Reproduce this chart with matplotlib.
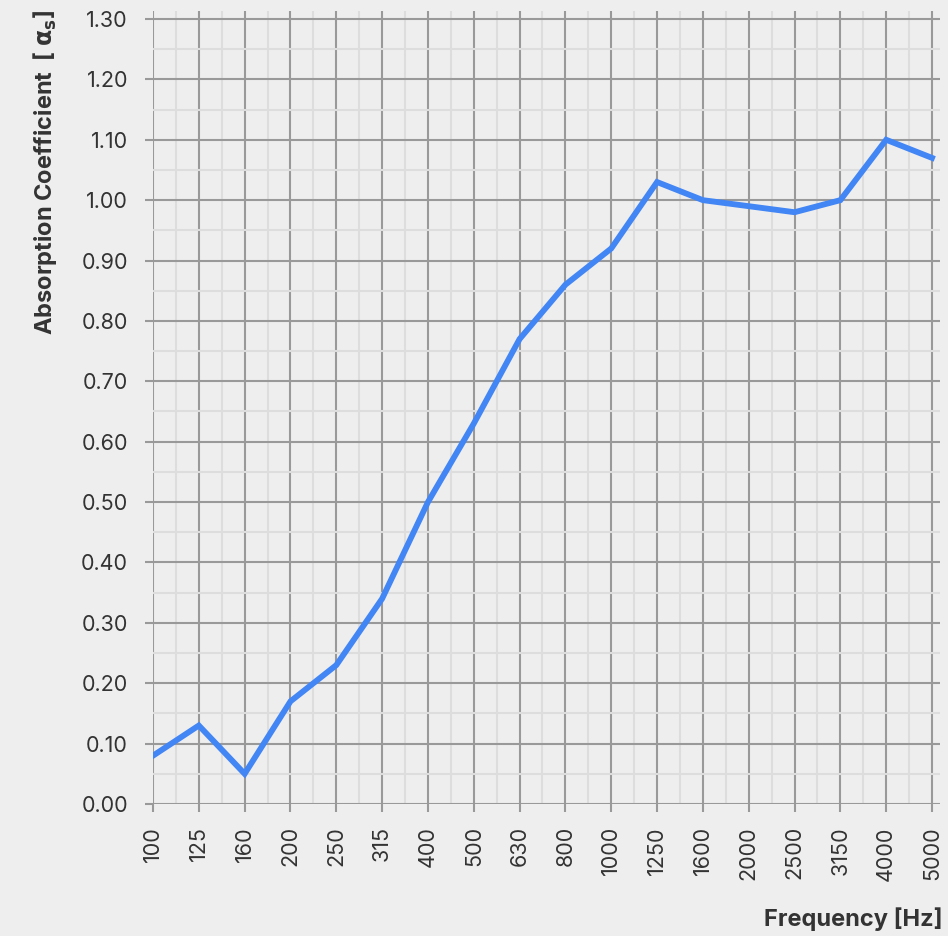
import numpy as np
import matplotlib.pyplot as plt
from matplotlib.ticker import MultipleLocator

# third-octave band centres and measured absorption
freqs = ["100", "125", "160", "200", "250", "315", "400", "500", "630",
         "800", "1000", "1250", "1600", "2000", "2500", "3150", "4000", "5000"]
alpha = [0.08, 0.13, 0.05, 0.17, 0.23, 0.34, 0.50, 0.63, 0.77,
         0.86, 0.92, 1.03, 1.00, 0.99, 0.98, 1.00, 1.10, 1.07]

plt.rcParams['font.family'] = ['Inter', 'DejaVu Sans']
bg = '#eeeeee'

fig = plt.figure(figsize=(9.48, 9.36), dpi=100, facecolor=bg)
ax = fig.add_axes([153/948, 1-804/936, (940-153)/948, (804-11)/936])
ax.set_facecolor(bg)

x = np.arange(len(freqs))
ax.plot(x, alpha, color='#4285f4', lw=4.2, solid_joinstyle='miter', zorder=5)

ax.set_xlim(0, len(freqs) - 1 + 8/45.8)
ax.set_ylim(0, 1.30 + 8/604)
ax.set_xticks(x)
ax.set_xticklabels(freqs, rotation=90)
ax.xaxis.set_minor_locator(MultipleLocator(0.5))
ax.yaxis.set_major_locator(MultipleLocator(0.1))
ax.yaxis.set_minor_locator(MultipleLocator(0.05))
ax.yaxis.set_major_formatter(lambda v, p: f"{v:.2f}")

ax.grid(which='major', color='#999999', lw=1.5, zorder=2)
ax.grid(which='minor', color='#dddddd', lw=1.5, zorder=1)
ax.set_axisbelow(True)
for s in ax.spines.values():
    s.set_visible(False)

ax.tick_params(which='major', length=6, width=1.5, color='#999999',
               labelsize=15.5, labelcolor='#333333')
ax.tick_params(axis='y', which='major', pad=12)
ax.tick_params(axis='x', which='major', pad=10)
ax.tick_params(which='minor', length=0)

fig.text(0.047, 1-10/936, r"Absorption Coefficient  [ $\mathbf{\alpha_s}$]",
         rotation=90, ha='center', va='top', fontsize=17, fontweight='bold',
         color='#333333')
fig.text(943/948, 1-919/936, "Frequency [Hz]", ha='right', va='center',
         fontsize=17, fontweight='bold', color='#333333')

fig.savefig('out.png', dpi=100, facecolor=bg)
